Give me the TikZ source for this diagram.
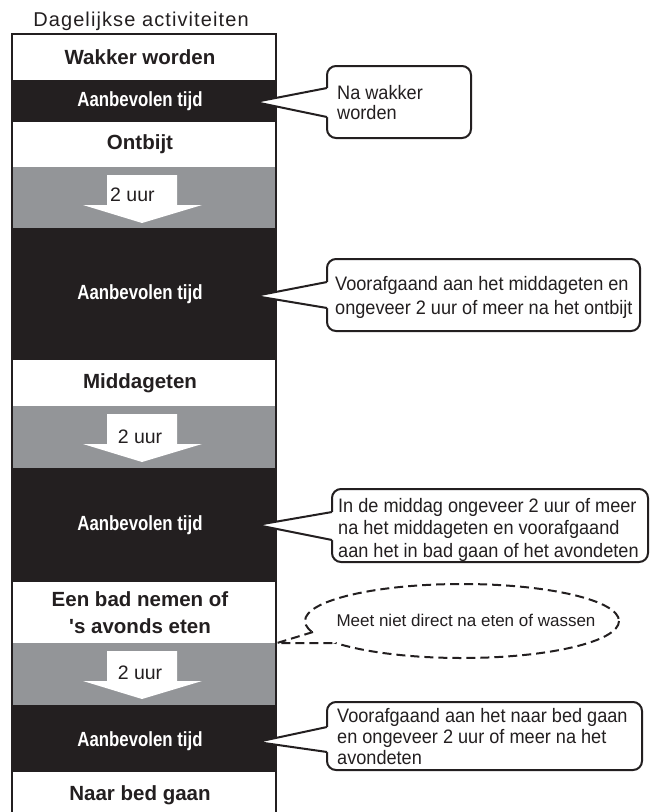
\documentclass[tikz,border=0pt]{standalone}
\usepackage{fontspec}
\setmainfont{Liberation Sans}
\newfontfamily\titlefont[LetterSpace=5.5]{Liberation Sans}
\newfontfamily\condfont[FakeStretch=0.82]{Liberation Sans}
\newfontfamily\callfont[FakeStretch=0.93]{Liberation Sans}
\definecolor{ink}{HTML}{231F20}
\definecolor{band}{HTML}{939598}
\begin{document}
\begin{tikzpicture}[x=1pt,y=-1pt,
  rowtext/.style={font=\fontsize{20.5}{27}\selectfont\bfseries, text=ink, align=center, inner sep=0pt},
  rectext/.style={font=\condfont\fontsize{20.5}{24}\selectfont\bfseries, text=white, inner sep=0pt},
  uurtext/.style={font=\fontsize{19.5}{22}\selectfont, text=ink, inner sep=0pt},
  calltext/.style={font=\callfont\fontsize{19.5}{22}\selectfont, text=ink, align=left, inner sep=0pt, anchor=north west},
  callbox/.style={draw=ink, fill=white, line width=2pt, rounded corners=9pt},
  wedge/.style={draw=ink, line width=2pt, line join=miter},
  dashwedge/.style={draw=ink, line width=2pt, dash pattern=on 9pt off 5pt},
  bigarrow/.style={fill=white},
  colborder/.style={draw=ink, line width=2pt}]
\useasboundingbox (0,0) rectangle (650,812);
\fill[white] (0,0) rectangle (650,812);

% title
\node[font=\titlefont\fontsize{20}{22}\selectfont, text=ink, inner sep=0pt] (title) at (141,21) {Dagelijkse activiteiten};

% column bands
\fill[ink]  (12,80)  rectangle (276,122);
\fill[band] (12,167) rectangle (276,228);
\fill[ink]  (12,228) rectangle (276,360);
\fill[band] (12,406) rectangle (276,468);
\fill[ink]  (12,468) rectangle (276,582);
\fill[band] (12,643) rectangle (276,705);
\fill[ink]  (12,705) rectangle (276,772);
\draw[colborder] (12,812) -- (12,34) -- (276,34) -- (276,812);

% big arrows
\fill[bigarrow] (107,175) -- (177,175) -- (177,205) -- (202,205) -- (142,223) -- (83,205) -- (107,205) -- cycle;
\fill[bigarrow] (107,414) -- (177,414) -- (177,444) -- (202,444) -- (142,462) -- (83,444) -- (107,444) -- cycle;
\fill[bigarrow] (107,651) -- (177,651) -- (177,681) -- (202,681) -- (142,699) -- (83,681) -- (107,681) -- cycle;
\node[uurtext, anchor=west] (uur1) at (110,195) {2 uur};
\node[uurtext] (uur2) at (140,437) {2 uur};
\node[uurtext] (uur3) at (140,673) {2 uur};

% row labels
\node[rowtext] (wake) at (140,57) {Wakker worden};
\node[rectext] (rec1) at (140,101) {Aanbevolen tijd};
\node[rowtext] (ontbijt) at (140,144) {Ontbijt};
\node[rectext] (rec2) at (140,294) {Aanbevolen tijd};
\node[rowtext] (midd) at (140,383) {Middageten};
\node[rectext] (rec3) at (140,525) {Aanbevolen tijd};
\node[rowtext] (bad) at (140,613) {Een bad nemen of\\\textquotesingle s avonds eten};
\node[rectext] (rec4) at (140,741) {Aanbevolen tijd};
\node[rowtext] (bed) at (140,795) {Naar bed gaan};

% callout 1
\draw[callbox] (327,66) rectangle (471,138);
\coordinate (t1) at (255,102);
\coordinate (u1) at (327,88);
\coordinate (l1) at (327,117);
\fill[white] (u1) -- (t1) -- (l1) -- ([xshift=3pt]l1) -- ([xshift=3pt]u1) -- cycle;
\draw[wedge] (u1) -- (t1) -- (l1);
\node[calltext, font=\callfont\fontsize{19.5}{20}\selectfont] (c1) at (337,85) {Na wakker\\worden};

% callout 2
\draw[callbox] (327,259) rectangle (640,331);
\coordinate (t2) at (255,296);
\coordinate (u2) at (327,282);
\coordinate (l2) at (327,308);
\fill[white] (u2) -- (t2) -- (l2) -- ([xshift=3pt]l2) -- ([xshift=3pt]u2) -- cycle;
\draw[wedge] (u2) -- (t2) -- (l2);
\node[calltext, font=\callfont\fontsize{19.5}{24}\selectfont] (c2) at (335,276) {Voorafgaand aan het middageten en\\ongeveer 2 uur of meer na het ontbijt};

% callout 3
\draw[callbox] (332,489) rectangle (648,562);
\coordinate (t3) at (257,525);
\coordinate (u3) at (332,512);
\coordinate (l3) at (332,540);
\fill[white] (u3) -- (t3) -- (l3) -- ([xshift=3pt]l3) -- ([xshift=3pt]u3) -- cycle;
\draw[wedge] (u3) -- (t3) -- (l3);
\node[calltext, font=\callfont\fontsize{19.5}{22.5}\selectfont] (c3) at (338,498) {In de middag ongeveer 2 uur of meer\\na het middageten en voorafgaand\\aan het in bad gaan of het avondeten};

% callout 4
\draw[callbox] (327,702) rectangle (642,770);
\coordinate (t4) at (257,742);
\coordinate (u4) at (327,727);
\coordinate (l4) at (327,752);
\fill[white] (u4) -- (t4) -- (l4) -- ([xshift=3pt]l4) -- ([xshift=3pt]u4) -- cycle;
\draw[wedge] (u4) -- (t4) -- (l4);
\node[calltext, font=\callfont\fontsize{19.5}{21}\selectfont] (c4) at (337,708) {Voorafgaand aan het naar bed gaan\\en ongeveer 2 uur of meer na het\\avondeten};

% dashed ellipse callout
\draw[dashwedge, fill=white] (462,621) ellipse [x radius=157, y radius=37];
\coordinate (t5) at (277,643);
\coordinate (p1) at (313,632);
\coordinate (p2) at (335,643);
\fill[white] (p1) -- (t5) -- (p2) -- ([shift={(3,-3)}]p2) -- ([shift={(4,-2)}]p1) -- cycle;
\draw[dashwedge] (p1) -- (t5) -- (p2);
\node[font=\fontsize{17}{20}\selectfont, text=ink, inner sep=0pt] (note) at (466,620) {Meet niet direct na eten of wassen};
\end{tikzpicture}
\end{document}
